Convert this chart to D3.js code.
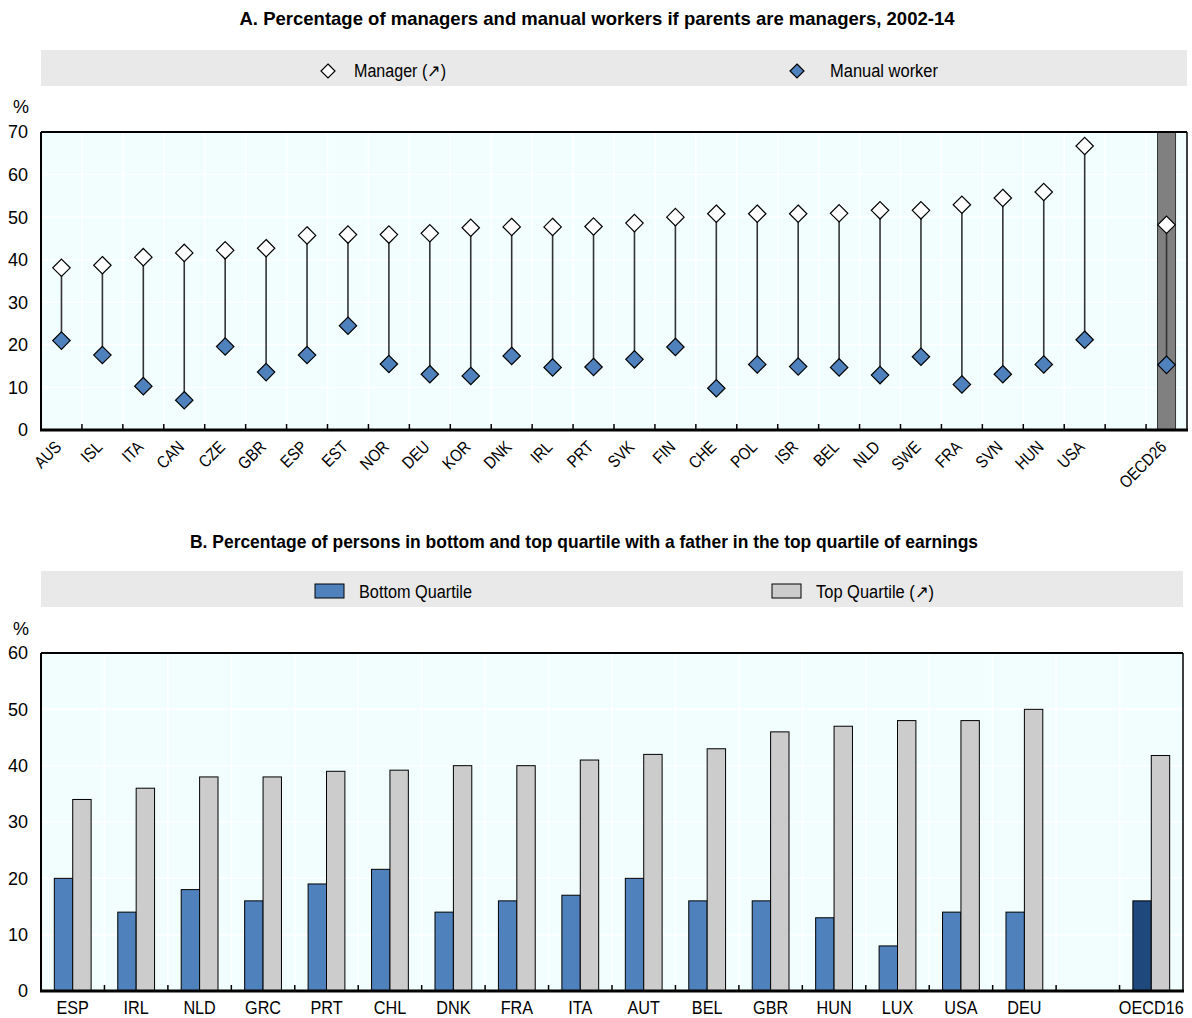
<!DOCTYPE html>
<html>
<head>
<meta charset="utf-8">
<script src="https://cdn.jsdelivr.net/npm/d3@7"></script>
<style>
  html, body { margin: 0; padding: 0; background: #fff; }
  svg { display: block; }
  text { font-family: "Liberation Sans", Arial, sans-serif; }
</style>
</head>
<body>
<svg id="chart" width="1192" height="1018"></svg>
<script>
// Panel A: occupation of children whose parents are managers
const countriesA = ["AUS","ISL","ITA","CAN","CZE","GBR","ESP","EST","NOR","DEU","KOR","DNK","IRL","PRT","SVK","FIN","CHE","POL","ISR","BEL","NLD","SWE","FRA","SVN","HUN","USA","","OECD26"];
const managerA = [38.1,38.7,40.6,41.6,42.2,42.7,45.7,45.9,45.9,46.2,47.5,47.7,47.7,47.8,48.6,50.0,50.8,50.8,50.8,50.9,51.6,51.6,52.9,54.5,55.9,66.7,null,48.2];
const manualA  = [21.0,17.6,10.3,7.0,19.6,13.6,17.6,24.5,15.5,13.1,12.7,17.4,14.7,14.8,16.6,19.5,9.8,15.4,14.9,14.7,12.9,17.2,10.7,13.1,15.4,21.2,null,15.3];
const ticksA = [0,10,20,30,40,50,60,70];

// Panel B: earnings quartile of persons whose father was in the top quartile
const countriesB = ["ESP","IRL","NLD","GRC","PRT","CHL","DNK","FRA","ITA","AUT","BEL","GBR","HUN","LUX","USA","DEU","","OECD16"];
const bottomB = [20,14,18,16,19,21.6,14,16,17,20,16,16,13,8,14,14,null,16];
const topB    = [34,36,38,38,39,39.2,40,40,41,42,43,46,47,48,48,50,null,41.8];
const ticksB = [0,10,20,30,40,50,60];

const svg = d3.select("#chart");
const PLOT_BG = "#f2fefe";
const BLUE = "#4f81bd";
const DARK_BLUE = "#1f497d";
const GREY = "#cccccc";
const LEG_BG = "#e9e9e9";

// condensed text: squeeze glyphs horizontally to mimic a narrow face
function condense(sel, factor) {
  sel.each(function () {
    const w = this.getComputedTextLength();
    d3.select(this).attr("textLength", w * factor).attr("lengthAdjust", "spacingAndGlyphs");
  });
  return sel;
}

function frame(g, x, y, left, right, top, bottom, ticks) {
  g.append("rect").attr("x", left).attr("y", top)
    .attr("width", right - left).attr("height", bottom - top).attr("fill", PLOT_BG);
  g.selectAll(".hg").data(ticks.slice(1, -1)).join("line")
    .attr("x1", left).attr("x2", right)
    .attr("y1", d => y(d)).attr("y2", d => y(d))
    .attr("stroke", "#fff").attr("stroke-width", 1.5);
  g.selectAll(".vg").data(x.domain().slice(1)).join("line")
    .attr("x1", d => x(d)).attr("x2", d => x(d))
    .attr("y1", top).attr("y2", bottom)
    .attr("stroke", "#fff").attr("stroke-width", 1.5);
}

function borders(g, x, y, left, right, top, bottom, ticks) {
  g.selectAll(".xt").data(x.domain().slice(1)).join("line")
    .attr("x1", d => x(d)).attr("x2", d => x(d))
    .attr("y1", bottom).attr("y2", bottom - 6)
    .attr("stroke", "#000").attr("stroke-width", 1.5);
  g.append("line").attr("x1", left).attr("x2", right).attr("y1", top).attr("y2", top)
    .attr("stroke", "#000").attr("stroke-width", 2);
  g.append("line").attr("x1", right).attr("x2", right).attr("y1", top).attr("y2", bottom)
    .attr("stroke", "#000").attr("stroke-width", 1.5);
  g.append("line").attr("x1", left).attr("x2", left).attr("y1", top).attr("y2", bottom)
    .attr("stroke", "#000").attr("stroke-width", 2);
  g.append("line").attr("x1", left - 1).attr("x2", right + 1).attr("y1", bottom).attr("y2", bottom)
    .attr("stroke", "#000").attr("stroke-width", 3);
  g.selectAll(".yl").data(ticks).join("text")
    .attr("x", left - 13).attr("y", d => y(d))
    .attr("dy", "0.36em").attr("text-anchor", "end")
    .attr("font-size", 18).attr("fill", "#000")
    .text(d => d);
}

function diamond(g, cx, cy, r, fill) {
  g.append("path")
    .attr("d", `M${cx},${cy - r}L${cx + r},${cy}L${cx},${cy + r}L${cx - r},${cy}Z`)
    .attr("fill", fill).attr("stroke", "#000").attr("stroke-width", 1.2);
}

function label(g, x, y, txt, size, width, opts = {}) {
  const t = g.append("text").attr("x", x).attr("y", y).attr("font-size", size)
    .attr("text-anchor", opts.anchor || "start")
    .attr("font-weight", opts.bold ? "bold" : "normal")
    .text(txt);
  t.attr("textLength", width).attr("lengthAdjust", "spacingAndGlyphs");
  return t;
}

// ---------------- Panel A ----------------
{
  const left = 41, right = 1187, top = 132, bottom = 430;
  const x = d3.scaleBand().domain(countriesA.map(c => c || "_gap")).range([left, right]);
  const y = d3.scaleLinear().domain([0, 70]).range([bottom, top]);
  const g = svg.append("g");

  label(g, 597, 25, "A. Percentage of managers and manual workers if parents are managers, 2002-14", 19, 715, { anchor: "middle", bold: true });

  g.append("rect").attr("x", 41).attr("y", 50).attr("width", 1146).attr("height", 36).attr("fill", LEG_BG);
  diamond(g, 328, 71, 7, "#fff");
  label(g, 354, 77, "Manager (↗)", 18, 92);
  diamond(g, 797, 71, 7, BLUE);
  label(g, 830, 77, "Manual worker", 18, 108);

  g.append("text").attr("x", 13).attr("y", 113).attr("font-size", 18).text("%");

  frame(g, x, y, left, right, top, bottom, ticksA);

  // OECD average highlight band
  const oecd = countriesA[countriesA.length - 1];
  g.append("rect")
    .attr("x", x(oecd) + x.bandwidth() * 0.28).attr("y", top)
    .attr("width", x.bandwidth() * 0.44).attr("height", bottom - top)
    .attr("fill", "#808080").attr("stroke", "#333").attr("stroke-width", 1);

  const rows = countriesA.map((c, i) => ({ c: c || "_gap", m: managerA[i], w: manualA[i] }))
    .filter(d => d.m != null);
  const cx = d => x(d.c) + x.bandwidth() / 2;

  g.selectAll(".stem").data(rows).join("line")
    .attr("x1", cx).attr("x2", cx)
    .attr("y1", d => y(d.m)).attr("y2", d => y(d.w))
    .attr("stroke", "#333").attr("stroke-width", 1.6);

  rows.forEach(d => {
    diamond(g, cx(d), y(d.w), 8.7, BLUE);
    diamond(g, cx(d), y(d.m), 8.7, "#fff");
  });

  borders(g, x, y, left, right, top, bottom, ticksA);

  const xl = g.selectAll(".xl").data(rows).join("text")
    .attr("font-size", 17).attr("text-anchor", "end")
    .attr("transform", d => `translate(${cx(d) + 1},${bottom + 18}) rotate(-45)`)
    .text(d => d.c);
  condense(xl, 0.86);
}

// ---------------- Panel B ----------------
{
  const left = 41, right = 1183, top = 653, bottom = 991;
  const x = d3.scaleBand().domain(countriesB.map(c => c || "_gap")).range([left, right]);
  const y = d3.scaleLinear().domain([0, 60]).range([bottom, top]);
  const g = svg.append("g");

  label(g, 584, 548, "B. Percentage of persons in bottom and top quartile with a father in the top quartile of earnings", 19, 788, { anchor: "middle", bold: true });

  g.append("rect").attr("x", 41).attr("y", 571).attr("width", 1142).attr("height", 36).attr("fill", LEG_BG);
  g.append("rect").attr("x", 315).attr("y", 584).attr("width", 29).attr("height", 14)
    .attr("fill", BLUE).attr("stroke", "#000").attr("stroke-width", 1);
  label(g, 359, 598, "Bottom Quartile", 18, 113);
  g.append("rect").attr("x", 772).attr("y", 584).attr("width", 29).attr("height", 14)
    .attr("fill", GREY).attr("stroke", "#000").attr("stroke-width", 1);
  label(g, 816, 598, "Top Quartile (↗)", 18, 118);

  g.append("text").attr("x", 13).attr("y", 635).attr("font-size", 18).text("%");

  frame(g, x, y, left, right, top, bottom, ticksB);

  const rows = countriesB.map((c, i) => ({ c: c || "_gap", b: bottomB[i], t: topB[i], oecd: c.startsWith("OECD") }))
    .filter(d => d.b != null);
  const bw = x.bandwidth() * 0.29;
  const cx = d => x(d.c) + x.bandwidth() / 2;

  g.selectAll(".bb").data(rows).join("rect")
    .attr("x", d => cx(d) - bw).attr("y", d => y(d.b))
    .attr("width", bw).attr("height", d => y(0) - y(d.b))
    .attr("fill", d => d.oecd ? DARK_BLUE : BLUE)
    .attr("stroke", "#000").attr("stroke-width", 1);
  g.selectAll(".tb").data(rows).join("rect")
    .attr("x", d => cx(d)).attr("y", d => y(d.t))
    .attr("width", bw).attr("height", d => y(0) - y(d.t))
    .attr("fill", GREY).attr("stroke", "#000").attr("stroke-width", 1);

  borders(g, x, y, left, right, top, bottom, ticksB);

  const xl = g.selectAll(".xl").data(rows).join("text")
    .attr("font-size", 18).attr("text-anchor", "middle")
    .attr("x", cx).attr("y", bottom + 23)
    .text(d => d.c);
  condense(xl, 0.9);
}
</script>
</body>
</html>
